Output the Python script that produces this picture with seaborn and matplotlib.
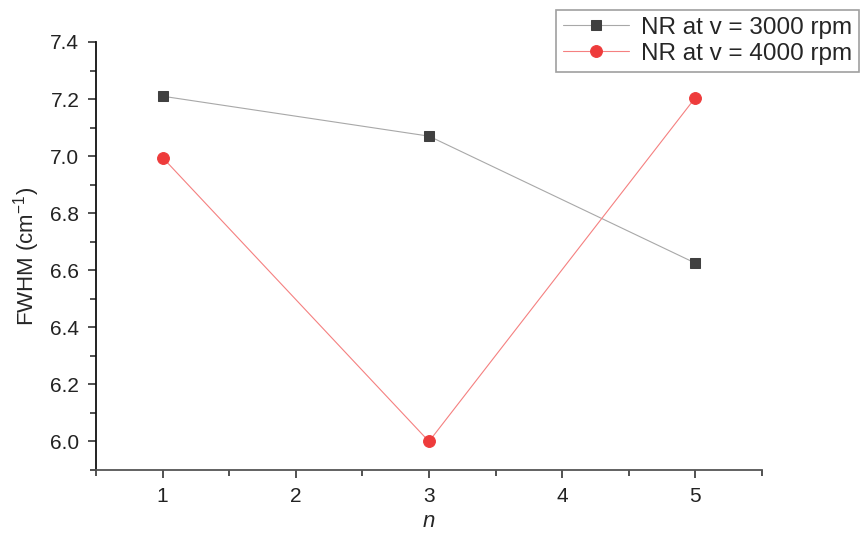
import pandas as pd
import seaborn as sns
import matplotlib.pyplot as plt
from matplotlib.ticker import MultipleLocator

sns.set_style('ticks')
plt.rcParams['font.family'] = ['Liberation Sans', 'DejaVu Sans']
plt.rcParams['mathtext.fontset'] = 'custom'
plt.rcParams['mathtext.rm'] = 'Liberation Sans'
plt.rcParams['mathtext.it'] = 'Liberation Sans:italic'

n = [1, 3, 5]
fwhm_3000 = [7.21, 7.07, 6.625]
fwhm_4000 = [6.995, 6.00, 7.205]
labels = ['NR at v = 3000 rpm', 'NR at v = 4000 rpm']

df = pd.DataFrame({'n': n * 2,
                   'fwhm': fwhm_3000 + fwhm_4000,
                   'series': [labels[0]] * 3 + [labels[1]] * 3})

fig = plt.figure(figsize=(8.61, 5.35), dpi=100)
ax = fig.add_axes([0.1115, 0.1215, 0.7735, 0.8])

sns.lineplot(data=df[df.series == labels[0]], x='n', y='fwhm', ax=ax,
             color='#a8a8a8', lw=0.8, marker='s', markersize=7,
             markerfacecolor='#404040', markeredgecolor='#404040',
             label=labels[0])
sns.lineplot(data=df[df.series == labels[1]], x='n', y='fwhm', ax=ax,
             color='#f58080', lw=0.8, marker='o', markersize=8.5,
             markerfacecolor='#ee3b3b', markeredgecolor='#ee3b3b',
             label=labels[1])

ax.set_xlim(0.5, 5.5)
ax.set_ylim(5.9, 7.4)
ax.xaxis.set_major_locator(MultipleLocator(1))
ax.xaxis.set_minor_locator(MultipleLocator(0.5))
ax.yaxis.set_major_locator(MultipleLocator(0.2))
ax.yaxis.set_minor_locator(MultipleLocator(0.1))
ax.yaxis.set_major_formatter(plt.FormatStrFormatter('%.1f'))
ax.tick_params(which='major', length=6, width=1.2, labelsize=15,
               colors='#333333', labelcolor='#222222')
ax.tick_params(which='minor', length=4, width=1.2, colors='#333333')
ax.tick_params(axis='x', pad=6)
ax.tick_params(axis='y', pad=6)
sns.despine(ax=ax)
ax.spines['left'].set_color('#111111')
ax.spines['bottom'].set_color('#555555')
ax.spines['left'].set_linewidth(1.3)
ax.spines['bottom'].set_linewidth(1.3)

ax.set_xlabel('$n$', fontsize=16, labelpad=4)
ax.set_ylabel('FWHM (cm$^{-1}$)', fontsize=16, labelpad=6)

leg = ax.legend(loc='upper right', bbox_to_anchor=(0.998, 0.982),
                bbox_transform=fig.transFigure, fontsize=17.5, fancybox=False,
                frameon=True, borderpad=0.3, handlelength=2.7,
                handletextpad=0.5, labelspacing=0.15, borderaxespad=0.0)
leg.get_frame().set_edgecolor('#888888')
leg.get_frame().set_linewidth(1.2)

fig.savefig('out.png', dpi=100)
